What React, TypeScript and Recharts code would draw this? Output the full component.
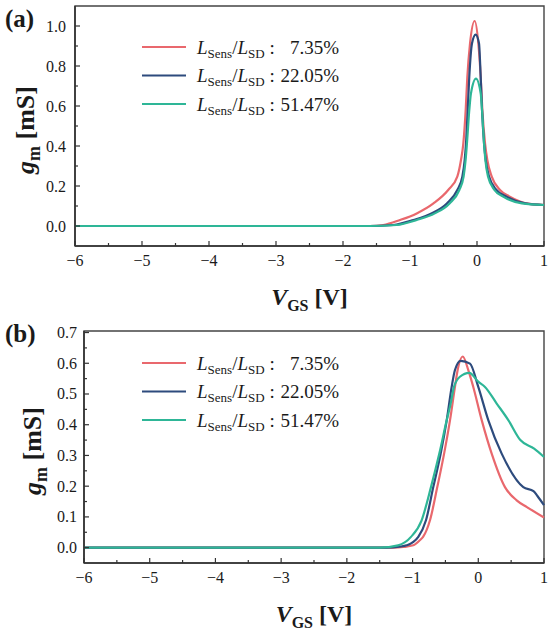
import React from 'react';
import { LineChart, Line, XAxis, YAxis, ReferenceArea, Legend, Customized } from 'recharts';

const SERIF = '"Liberation Serif", "Times New Roman", serif';
const INK = '#1a1a1a';

const ratios = ['7.35%', '22.05%', '51.47%'];
const colors = ['#e9686d', '#2d4b7d', '#2eb697'];

const xMajor = [-6, -5, -4, -3, -2, -1, 0, 1];
const xMinor = [-5.5, -4.5, -3.5, -2.5, -1.5, -0.5, 0.5];
const aYMajor = [0, 0.2, 0.4, 0.6, 0.8, 1.0];
const aYMinor = [0.1, 0.3, 0.5, 0.7, 0.9];
const bYMajor = [0, 0.1, 0.2, 0.3, 0.4, 0.5, 0.6, 0.7];
const bYMinor = [0.05, 0.15, 0.25, 0.35, 0.45, 0.55, 0.65];

// (a) gm vs VGS
const aRedV = [-6, -1.6, -1.4, -1.15, -0.9, -0.65, -0.43, -0.294, -0.239, -0.204, -0.169, -0.144, -0.104, -0.035, 0.02, 0.055, 0.08, 0.12, 0.154, 0.22, 0.343, 0.49, 0.74, 1.0];
const aRedG = [0, 0, 0.005, 0.03, 0.063, 0.113, 0.18, 0.247, 0.33, 0.413, 0.58, 0.747, 0.913, 1.025, 0.913, 0.747, 0.58, 0.413, 0.33, 0.247, 0.18, 0.147, 0.113, 0.105];
const aBlueV = [-6, -1.6, -1.25, -0.95, -0.68, -0.45, -0.294, -0.219, -0.184, -0.164, -0.139, -0.115, -0.075, -0.02, 0.03, 0.055, 0.075, 0.105, 0.13, 0.18, 0.29, 0.44, 0.72, 1.0];
const aBlueG = [0, 0, 0.005, 0.03, 0.063, 0.113, 0.18, 0.247, 0.33, 0.413, 0.58, 0.747, 0.913, 0.957, 0.913, 0.747, 0.58, 0.413, 0.33, 0.247, 0.18, 0.147, 0.113, 0.105];
const aTealV = [-6, -1.6, -1.2, -0.9, -0.63, -0.41, -0.264, -0.2, -0.17, -0.15, -0.115, -0.09, -0.015, 0.055, 0.075, 0.105, 0.125, 0.164, 0.26, 0.39, 0.67, 1.0];
const aTealG = [0, 0, 0.005, 0.03, 0.063, 0.113, 0.18, 0.247, 0.33, 0.413, 0.58, 0.663, 0.737, 0.663, 0.58, 0.413, 0.33, 0.247, 0.18, 0.147, 0.113, 0.105];

// (b) gm vs VGS
const bRedV = [-6, -1.3, -1.14, -0.99, -0.89, -0.84, -0.735, -0.624, -0.52, -0.43, -0.355, -0.314, -0.237, -0.152, -0.076, 0.052, 0.204, 0.406, 0.584, 0.74, 1.0];
const bRedG = [0, 0, 0.002, 0.0075, 0.024, 0.035, 0.089, 0.197, 0.306, 0.415, 0.523, 0.578, 0.622, 0.578, 0.523, 0.415, 0.306, 0.197, 0.154, 0.132, 0.098];
const bBlueV = [-6, -1.4, -1.2, -1.09, -0.913, -0.796, -0.685, -0.572, -0.48, -0.405, -0.355, -0.268, -0.126, 0.0, 0.152, 0.356, 0.685, 0.84, 0.9, 1.0];
const bBlueG = [0, 0, 0.003, 0.0075, 0.035, 0.089, 0.197, 0.306, 0.415, 0.523, 0.578, 0.608, 0.599, 0.523, 0.415, 0.306, 0.197, 0.184, 0.168, 0.138];
const bTealV = [-6, -1.5, -1.22, -1.024, -0.862, -0.72, -0.593, -0.48, -0.42, -0.37, -0.28, -0.137, 0.0, 0.102, 0.28, 0.457, 0.64, 0.85, 1.0];
const bTealG = [0, 0, 0.0075, 0.035, 0.089, 0.197, 0.306, 0.415, 0.469, 0.523, 0.556, 0.569, 0.54, 0.523, 0.469, 0.415, 0.35, 0.322, 0.295];

const zip = (v: number[], g: number[]) => v.map((x, i) => ({ v: x, g: g[i] }));

const fmtX = (v: number) => (v < 0 ? `\u2212${Math.abs(v)}` : `${v}`);

const XTick = ({ x, y, payload }: any) => {
  const major = xMajor.includes(payload.value);
  return (
    <g>
      <line x1={x} x2={x} y1={y} y2={y - (major ? 5 : 3)} stroke="#333" strokeWidth={1.2} />
      {major && (
        <text x={x} y={y + 20} textAnchor="middle" fontFamily={SERIF} fontSize={16} fill={INK}>
          {fmtX(payload.value)}
        </text>
      )}
    </g>
  );
};

const YTick = ({ x, y, payload, majors, gap }: any) => {
  const major = majors.includes(payload.value);
  return (
    <g>
      <line x1={x} x2={x + (major ? 5 : 3)} y1={y} y2={y} stroke="#333" strokeWidth={1.2} />
      {major && (
        <text x={x - gap} y={y + 5.5} textAnchor="end" fontFamily={SERIF} fontSize={16} fill={INK}>
          {payload.value.toFixed(1)}
        </text>
      )}
    </g>
  );
};

const XTitle = ({ viewBox, dy }: any) => (
  <text x={viewBox.x + viewBox.width / 2} y={viewBox.y + dy} textAnchor="middle" fontFamily={SERIF} fontWeight="bold" fontSize={24} fill={INK}>
    <tspan fontStyle="italic">V</tspan>
    <tspan fontSize={16} dy={6}>GS</tspan>
    <tspan dy={-6}> [V]</tspan>
  </text>
);

const YTitle = ({ viewBox, dx }: any) => {
  const cx = viewBox.x + viewBox.width + dx;
  const cy = viewBox.y + viewBox.height / 2 + 4;
  return (
    <text x={cx} y={cy} transform={`rotate(-90, ${cx}, ${cy})`} textAnchor="middle" fontFamily={SERIF} fontWeight="bold" fontSize={26} fill={INK}>
      <tspan fontStyle="italic">g</tspan>
      <tspan fontSize={18} dy={6}>m</tspan>
      <tspan dy={-6}> [mS]</tspan>
    </text>
  );
};

const LegendBox = ({ payload }: any) => {
  const items = [...(payload || [])].sort((a, b) => ratios.indexOf(a.value) - ratios.indexOf(b.value));
  return (
    <svg width={220} height={90} style={{ overflow: 'visible', display: 'block' }}>
      {items.map((p: any, i: number) => {
        const y = 10 + i * 28.5;
        return (
          <g key={p.value}>
            <line x1={0} x2={44} y1={y} y2={y} stroke={p.color} strokeWidth={2.2} />
            <text x={55} y={y + 6.5} fontFamily={SERIF} fontSize={19} fill={INK}>
              <tspan fontStyle="italic">L</tspan>
              <tspan fontSize={13} dy={4}>Sens</tspan>
              <tspan dy={-4}>/</tspan>
              <tspan fontStyle="italic">L</tspan>
              <tspan fontSize={13} dy={4}>SD</tspan>
              <tspan dy={-4}> :</tspan>
            </text>
            <text x={197} y={y + 6.5} textAnchor="end" fontFamily={SERIF} fontSize={19} fill={INK}>
              {p.value}
            </text>
          </g>
        );
      })}
    </svg>
  );
};

type PanelProps = {
  tag: string;
  height: number;
  top: number;
  axisH: number;
  axisW: number;
  yDomain: [number, number];
  yMajor: number[];
  yMinor: number[];
  yGap: number;
  titleDx: number;
  tagY: number;
  legendTop: number;
  series: { v: number; g: number }[][];
};

const Panel = ({ tag, height, top, axisH, axisW, yDomain, yMajor, yMinor, yGap, titleDx, tagY, legendTop, series }: PanelProps) => {
  const xTicks = [...xMajor, ...xMinor].sort((a, b) => a - b);
  const yTicks = [...yMajor, ...yMinor].sort((a, b) => a - b);
  return (
    <LineChart width={550} height={height} margin={{ top, right: 6, bottom: 0, left: 0 }}>
      <XAxis
        type="number"
        dataKey="v"
        domain={[-6, 1]}
        ticks={xTicks}
        interval={0}
        height={axisH}
        tickSize={0}
        tickMargin={0}
        tickLine={false}
        axisLine={{ stroke: '#333', strokeWidth: 1.6 }}
        tick={(p: any) => <XTick {...p} />}
        label={<XTitle dy={59} />}
      />
      <YAxis
        type="number"
        domain={yDomain}
        ticks={yTicks}
        interval={0}
        width={axisW}
        tickSize={0}
        tickMargin={0}
        tickLine={false}
        allowDataOverflow
        axisLine={{ stroke: '#333', strokeWidth: 1.6 }}
        tick={(p: any) => <YTick {...p} majors={yMajor} gap={yGap} />}
        label={<YTitle dx={titleDx} />}
      />
      <ReferenceArea x1={-6} x2={1} y1={yDomain[0]} y2={yDomain[1]} fill="none" stroke="#444" strokeWidth={1.4} />
      {series.map((d, i) => (
        <Line
          key={ratios[i]}
          data={d}
          dataKey="g"
          name={ratios[i]}
          type="monotone"
          stroke={colors[i]}
          strokeWidth={2.2}
          dot={false}
          activeDot={false}
          isAnimationActive={false}
        />
      ))}
      <Legend
        layout="vertical"
        verticalAlign="middle"
        align="center"
        wrapperStyle={{ top: legendTop, left: 142, width: 220 }}
        content={(p: any) => <LegendBox {...p} />}
      />
      <Customized
        component={() => (
          <text x={5} y={tagY} fontFamily={SERIF} fontWeight="bold" fontSize={25} fill={INK}>
            {tag}
          </text>
        )}
      />
    </LineChart>
  );
}

export default function App() {
  return (
    <div style={{ position: 'absolute', left: 0, top: 0, width: 550, height: 635, background: '#fff' }}>
      <Panel
        tag="(a)"
        height={318}
        top={6}
        axisH={72}
        axisW={75}
        yDomain={[-0.1, 1.1]}
        yMajor={aYMajor}
        yMinor={aYMinor}
        yGap={9}
        titleDx={-41}
        tagY={27}
        legendTop={37}
        series={[zip(aRedV, aRedG), zip(aBlueV, aBlueG), zip(aTealV, aTealG)]}
      />
      <Panel
        tag="(b)"
        height={317}
        top={13}
        axisH={72}
        axisW={84}
        yDomain={[-0.05, 0.705]}
        yMajor={bYMajor}
        yMinor={bYMinor}
        yGap={7}
        titleDx={-43}
        tagY={24}
        legendTop={35}
        series={[zip(bRedV, bRedG), zip(bBlueV, bBlueG), zip(bTealV, bTealG)]}
      />
    </div>
  );
}
